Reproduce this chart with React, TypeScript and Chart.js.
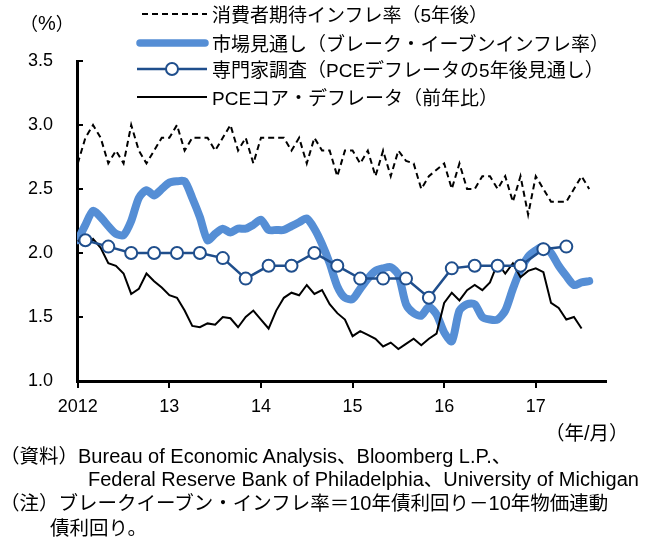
import React, { useEffect, useRef } from "react";
import { Chart, registerables } from "chart.js";
Chart.register(...registerables);

// x = month index from Jan 2012 (0) ; year ticks at each January
const yearLabels = ["2012", "13", "14", "15", "16", "17"];
const yearTickMonths = [0, 12, 24, 36, 48, 60];
const yTickValues = [1.0, 1.5, 2.0, 2.5, 3.0, 3.5];

// 消費者期待インフレ率（5年後） monthly Jan 2012 - Aug 2017
const consumerExpect = [
  2.7, 2.9, 3.0, 2.9, 2.7, 2.8, 2.7, 3.0, 2.8, 2.7, 2.8, 2.9,
  2.9, 3.0, 2.8, 2.9, 2.9, 2.9, 2.8, 2.9, 3.0, 2.8, 2.9, 2.7,
  2.9, 2.9, 2.9, 2.9, 2.8, 2.9, 2.7, 2.9, 2.8, 2.8, 2.6, 2.8,
  2.8, 2.7, 2.8, 2.6, 2.8, 2.6, 2.8, 2.72, 2.7, 2.5, 2.6, 2.65,
  2.7, 2.5, 2.7, 2.5, 2.5, 2.6, 2.6, 2.5, 2.6, 2.4, 2.6, 2.3,
  2.6, 2.5, 2.4, 2.4, 2.4, 2.5, 2.6, 2.5,
];

// 市場見通し（ブレーク・イーブンインフレ率） monthly Jan 2012 - Aug 2017
const breakeven = [
  2.10, 2.22, 2.33, 2.28, 2.21, 2.15, 2.14, 2.25, 2.43, 2.49, 2.45, 2.50,
  2.55, 2.56, 2.56, 2.43, 2.28, 2.10, 2.15, 2.19, 2.16, 2.19, 2.19, 2.22,
  2.26, 2.18, 2.18, 2.18, 2.21, 2.24, 2.27, 2.19, 2.07, 1.92, 1.74, 1.65,
  1.64, 1.72, 1.80, 1.86, 1.88, 1.89, 1.83, 1.60, 1.53, 1.51, 1.58, 1.52,
  1.38, 1.31, 1.55, 1.60, 1.60, 1.50, 1.48, 1.48, 1.55, 1.72, 1.87, 1.97,
  2.02, 2.05, 2.00, 1.90, 1.82, 1.75, 1.77, 1.78,
];

// 専門家調査（PCEデフレータの5年後見通し） quarterly
const surveyMonths = [1, 4, 7, 10, 13, 16, 19, 22, 25, 28, 31, 34, 37, 40, 43, 46, 49, 52, 55, 58, 61, 64];
const surveyValues = [
  2.1, 2.05, 2.0, 2.0, 2.0, 2.0, 1.96, 1.8, 1.9, 1.9, 2.0,
  1.9, 1.8, 1.8, 1.8, 1.65, 1.88, 1.9, 1.9, 1.9, 2.03, 2.05,
];

// PCEコア・デフレータ（前年比） monthly Jan 2012 - Jul 2017
const pceCore = [
  2.10, 2.06, 2.11, 2.04, 1.92, 1.90, 1.84, 1.68, 1.72, 1.84, 1.78, 1.73,
  1.67, 1.65, 1.55, 1.43, 1.42, 1.45, 1.44, 1.50, 1.49, 1.42, 1.50, 1.55,
  1.48, 1.41, 1.55, 1.65, 1.69, 1.67, 1.75, 1.68, 1.71, 1.60, 1.53, 1.48,
  1.35, 1.39, 1.36, 1.33, 1.27, 1.30, 1.25, 1.29, 1.33, 1.28, 1.33, 1.37,
  1.61, 1.69, 1.63, 1.71, 1.75, 1.71, 1.77, 1.92, 1.84, 1.92, 1.81, 1.86,
  1.88, 1.85, 1.61, 1.57, 1.48, 1.50, 1.41,
];

const legendItems = [
  "消費者期待インフレ率（5年後）",
  "市場見通し（ブレーク・イーブンインフレ率）",
  "専門家調査（PCEデフレータの5年後見通し）",
  "PCEコア・デフレータ（前年比）",
];

const BLUE = "#558ED5";
const NAVY = "#1F4E8C";
const LATIN = "'Liberation Sans', Arimo, Arial, sans-serif";
const CJK = "'Noto Sans CJK JP', sans-serif";

const axisTicks = {
  id: "axisTicks",
  afterDraw(chart: any) {
    const { ctx, chartArea, scales } = chart;
    ctx.save();
    ctx.strokeStyle = "#000";
    ctx.lineWidth = 2;
    for (const v of yTickValues) {
      const py = Math.round(scales.y.getPixelForValue(v));
      ctx.beginPath();
      ctx.moveTo(chartArea.left, py);
      ctx.lineTo(chartArea.left + 6, py);
      ctx.stroke();
    }
    for (const m of yearTickMonths) {
      const px = Math.round(scales.x.getPixelForValue(m));
      ctx.beginPath();
      ctx.moveTo(px, chartArea.bottom);
      ctx.lineTo(px, chartArea.bottom + 7);
      ctx.stroke();
    }
    ctx.restore();
  },
};

function Mixed({ text, size, latinSize }: { text: string; size: number; latinSize: number }) {
  const parts = text.split(/([\x00-\x7F]+)/).filter((p) => p.length > 0);
  return (
    <>
      {parts.map((p, i) =>
        /^[\x00-\x7F]+$/.test(p) ? (
          <span key={i} style={{ fontFamily: LATIN, fontSize: latinSize }}>{p}</span>
        ) : (
          <span key={i} style={{ fontFamily: CJK, fontSize: size }}>{p}</span>
        )
      )}
    </>
  );
}

function Txt({ left, top, text, size = 19.5, latinSize = 20 }: any) {
  return (
    <div
      style={{
        position: "absolute",
        left,
        top,
        whiteSpace: "nowrap",
        lineHeight: "24px",
        color: "#000",
      }}
    >
      <Mixed text={text} size={size} latinSize={latinSize} />
    </div>
  );
}

export default function App() {
  const ref = useRef<HTMLCanvasElement | null>(null);

  useEffect(() => {
    if (!ref.current) return;
    const chart = new Chart(ref.current, {
      type: "line",
      data: {
        datasets: [
          {
            label: legendItems[2],
            data: surveyValues.map((v, i) => ({ x: surveyMonths[i], y: v })),
            borderColor: NAVY,
            borderWidth: 2.5,
            pointRadius: 6,
            pointBorderWidth: 2,
            pointBackgroundColor: "#fff",
            pointBorderColor: NAVY,
            order: 0,
          },
          {
            label: legendItems[3],
            data: pceCore.map((v, i) => ({ x: i, y: v })),
            borderColor: "#000",
            borderWidth: 2,
            pointRadius: 0,
            order: 1,
          },
          {
            label: legendItems[1],
            data: breakeven.map((v, i) => ({ x: i, y: v })),
            borderColor: BLUE,
            borderWidth: 8,
            pointRadius: 0,
            tension: 0.25,
            borderJoinStyle: "round",
            borderCapStyle: "round",
            order: 2,
          },
          {
            label: legendItems[0],
            data: consumerExpect.map((v, i) => ({ x: i, y: v })),
            borderColor: "#000",
            borderWidth: 2,
            borderDash: [6, 4],
            pointRadius: 0,
            order: 3,
          },
        ],
      },
      options: {
        animation: false,
        responsive: false,
        devicePixelRatio: 1,
        layout: { padding: { top: 61, right: 44, left: 0, bottom: 0 } },
        plugins: { legend: { display: false }, tooltip: { enabled: false } },
        scales: {
          x: {
            type: "linear",
            min: -0.1,
            max: 69.2,
            afterFit: (s: any) => {
              s.height = 159;
            },
            afterBuildTicks: (s: any) => {
              s.ticks = yearTickMonths.map((v) => ({ value: v }));
            },
            grid: { display: false, drawTicks: false },
            border: { display: true, color: "#000", width: 3 },
            ticks: {
              autoSkip: false,
              maxRotation: 0,
              padding: 15,
              color: "#000",
              font: { family: LATIN, size: 18 },
              callback: (v: any) => {
                const k = yearTickMonths.indexOf(Number(v));
                return k >= 0 ? yearLabels[k] : "";
              },
            },
          },
          y: {
            min: 1,
            max: 3.5,
            afterFit: (s: any) => {
              s.width = 77;
            },
            afterBuildTicks: (s: any) => {
              s.ticks = yTickValues.map((v) => ({ value: v }));
            },
            grid: { display: false, drawTicks: false },
            border: { display: true, color: "#000", width: 3 },
            ticks: {
              padding: 24,
              color: "#000",
              font: { family: LATIN, size: 18 },
              callback: (v: any) => Number(v).toFixed(1),
            },
          },
        },
      },
      plugins: [axisTicks],
    } as any);
    return () => chart.destroy();
  }, []);

  const rowY = [2, 31, 57, 85];
  return (
    <div style={{ position: "absolute", left: 0, top: 0, width: 650, height: 540, background: "#fff" }}>
      <canvas ref={ref} width={650} height={540} style={{ display: "block", width: 650, height: 540 }} />
      <svg width={650} height={120} style={{ position: "absolute", left: 0, top: 0 }}>
        <line x1={142} y1={14} x2={207} y2={14} stroke="#000" strokeWidth={2} strokeDasharray="6 4" />
        <line x1={140} y1={43} x2={205} y2={43} stroke={BLUE} strokeWidth={7.5} strokeLinecap="round" />
        <line x1={137} y1={69} x2={207} y2={69} stroke={NAVY} strokeWidth={2.5} />
        <circle cx={172} cy={69} r={6} fill="#fff" stroke={NAVY} strokeWidth={2} />
        <line x1={137} y1={97} x2={207} y2={97} stroke="#000" strokeWidth={2} />
      </svg>
      {legendItems.map((t, i) => (
        <Txt key={i} left={212} top={rowY[i]} text={t} size={19} latinSize={19} />
      ))}
      <Txt left={20} top={10} text="（%）" size={18} />
      <Txt left={545} top={420} text="（年/月）" />
      <Txt left={0} top={443} text="（資料）Bureau of Economic Analysis、Bloomberg L.P.、" />
      <Txt left={88} top={466} text="Federal Reserve Bank of Philadelphia、University of Michigan" />
      <Txt left={0} top={490} text="（注）ブレークイーブン・インフレ率＝10年債利回り－10年物価連動" />
      <Txt left={50} top={515} text="債利回り。" />
    </div>
  );
}
